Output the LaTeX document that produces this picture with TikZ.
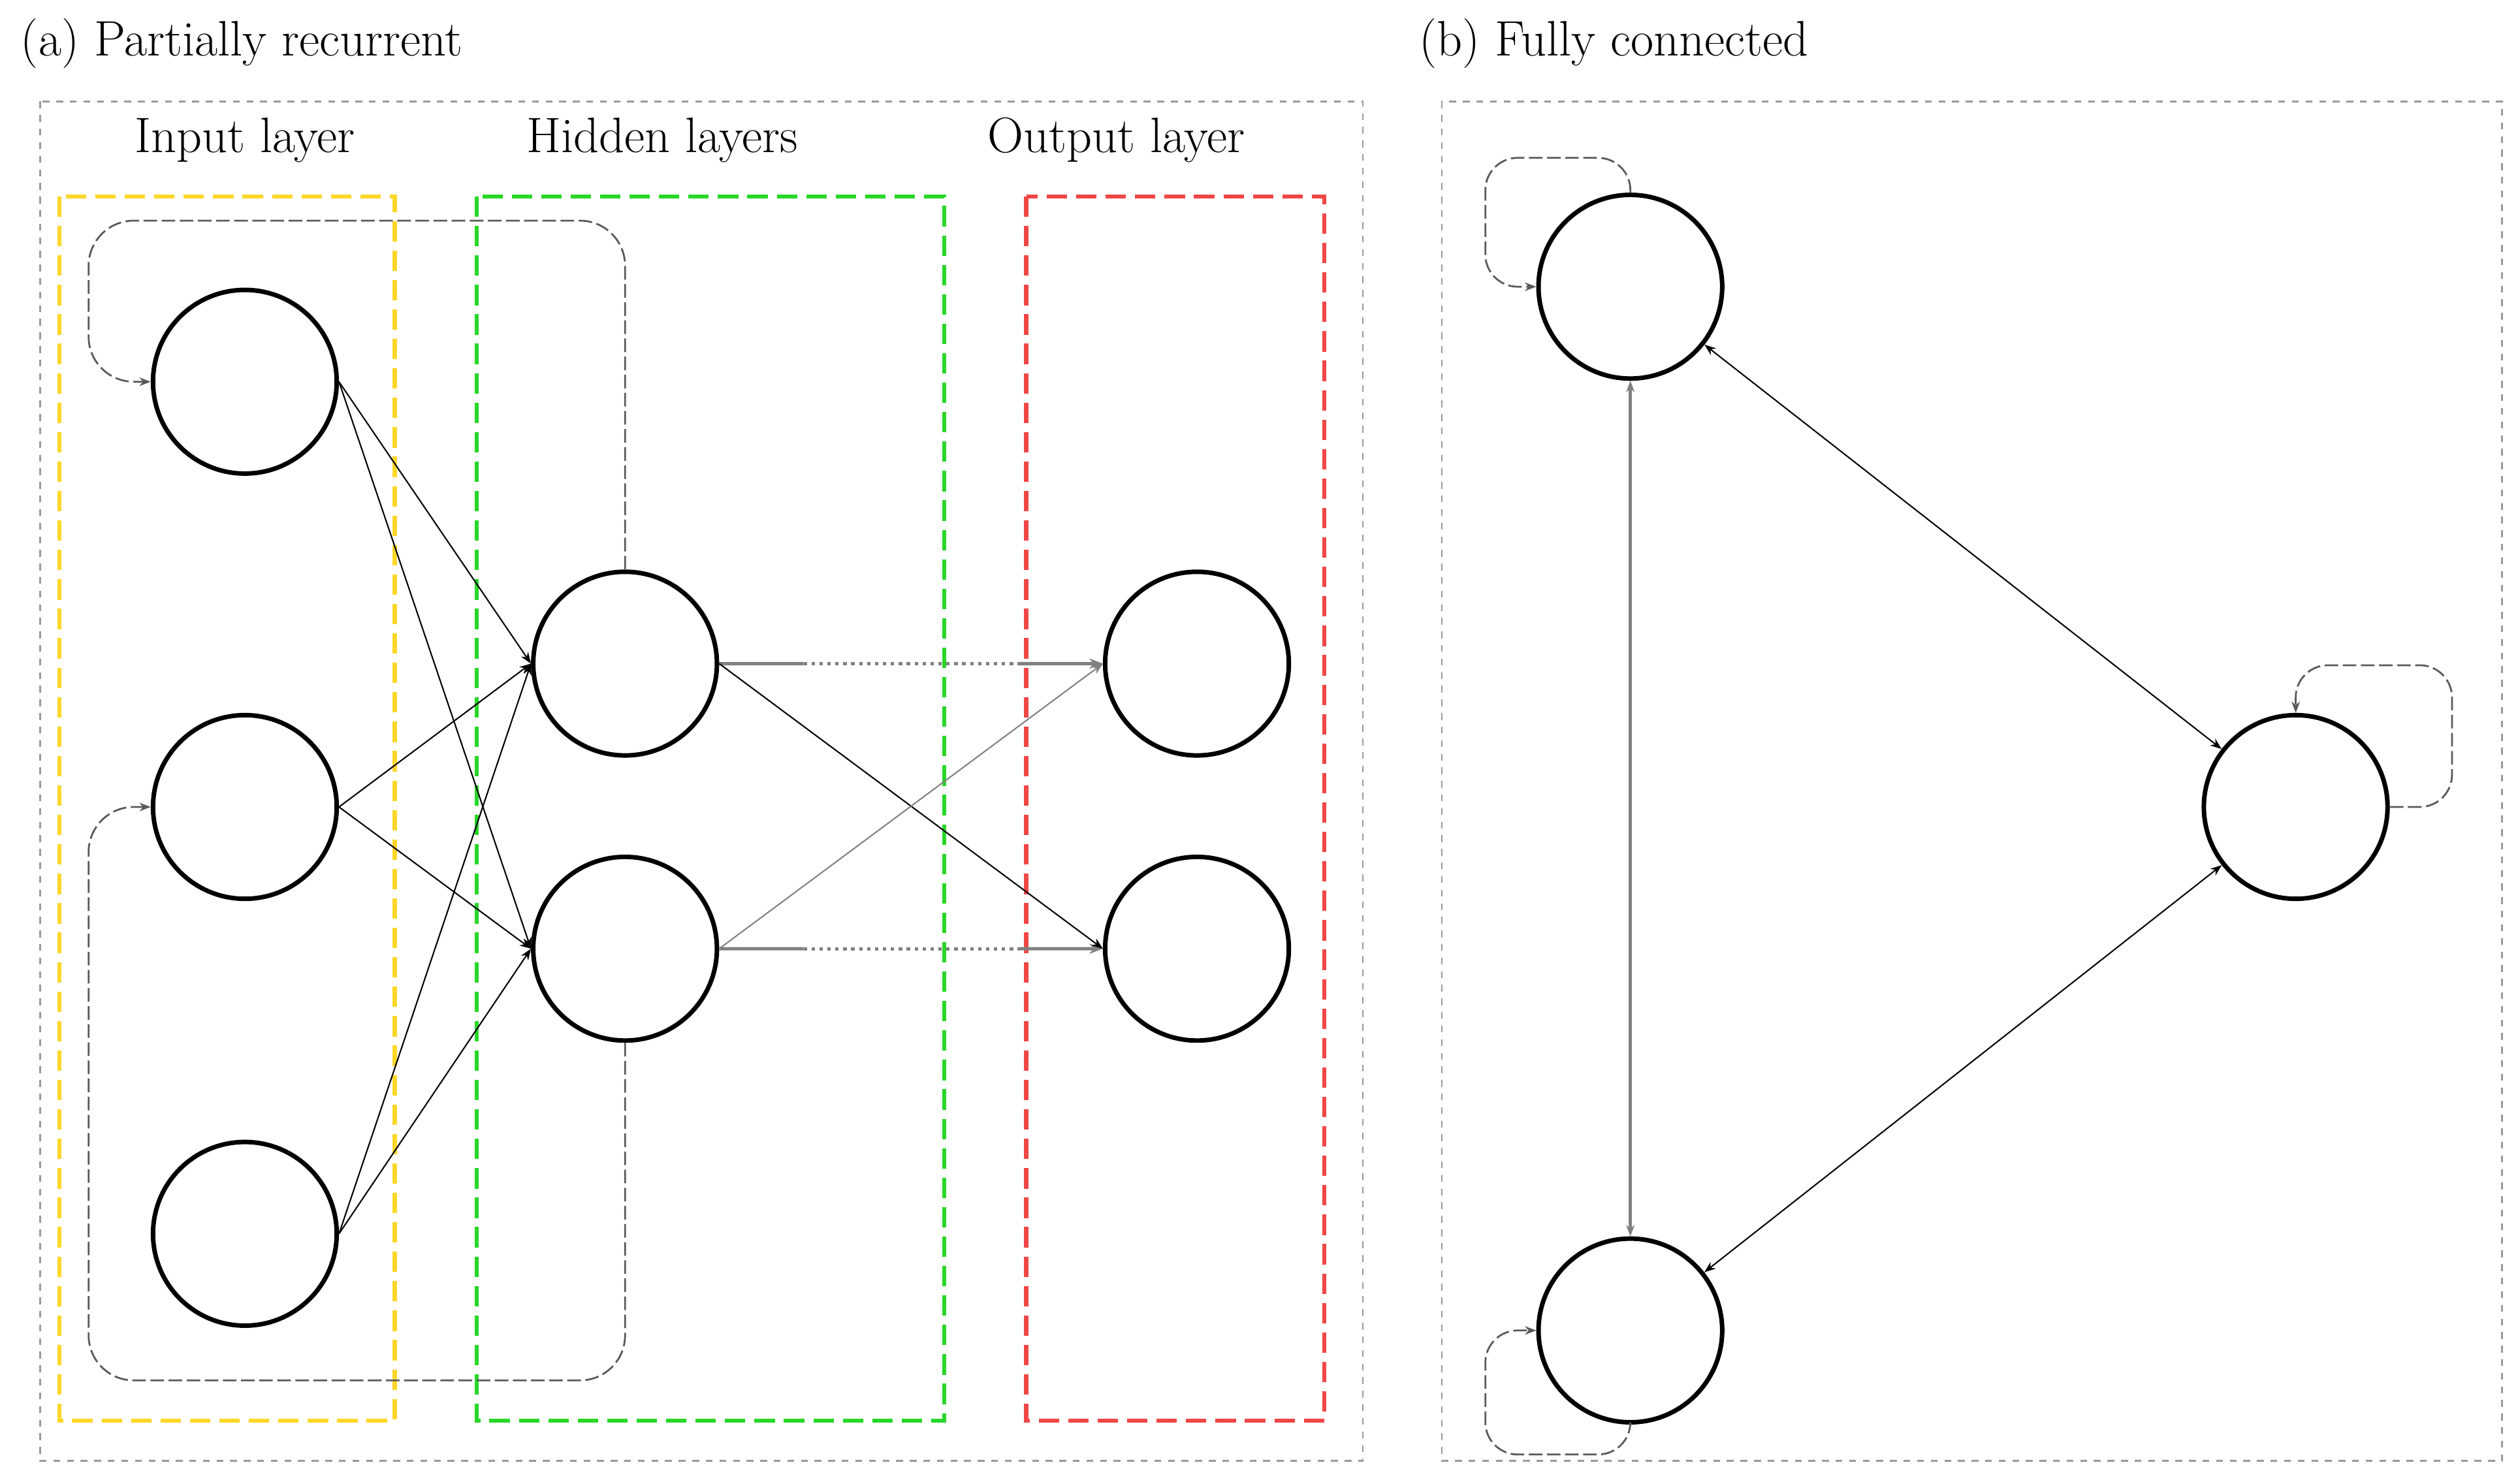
\documentclass[tikz,border=0pt]{standalone}
\usetikzlibrary{calc,arrows.meta}
\begin{document}
\begin{tikzpicture}[x=0.025cm,y=-0.025cm,
  neuron/.style={circle,draw,line width=2pt,minimum size=2.85cm,inner sep=0},
  frame/.style={draw=gray!80,dashed,line width=0.7pt},
  layer/.style={dash pattern=on 9pt off 4pt,line width=1.8pt},
  lbl/.style={font=\fontsize{22}{26}\selectfont},
  conn/.style={line width=0.6pt,-{Stealth[length=5pt]}},
  rec/.style={line width=0.8pt,dash pattern=on 6pt off 2pt,draw=black!65,rounded corners=0.7cm,-{Stealth[length=5pt]}},
  bi/.style={line width=0.6pt,{Stealth[length=5pt]}-{Stealth[length=5pt]}}]
\useasboundingbox (0,0) rectangle (1563,921);
\node[lbl,anchor=west] (ta) at (8,27) {(a) Partially recurrent};
\node[lbl,anchor=west] (tb) at (876,27) {(b) Fully connected};
\draw[frame] (25,63) rectangle (846,907);
\draw[frame] (895,63) rectangle (1553,907);
\node[lbl] (li) at (152,87) {Input layer};
\node[lbl] (lh) at (411,87) {Hidden layers};
\node[lbl] (lo) at (693,87) {Output layer};
\draw[layer,draw={rgb,255:red,255;green,215;blue,40}] (37,122) rectangle (245,882);
\draw[layer,draw={rgb,255:red,40;green,215;blue,40}] (296,122) rectangle (586,882);
\draw[layer,draw={rgb,255:red,240;green,70;blue,70}] (637,122) rectangle (822,882);
\node[neuron] (I1) at (152,237) {};
\node[neuron] (I2) at (152,501) {};
\node[neuron] (I3) at (152,766) {};
\node[neuron] (H1) at (388,412) {};
\node[neuron] (H2) at (388,589) {};
\node[neuron] (O1) at (743,412) {};
\node[neuron] (O2) at (743,589) {};
\foreach \i in {I1,I2,I3}{
  \draw[conn] (\i.east) -- (H1.west);
  \draw[conn] (\i.east) -- (H2.west);}
\draw[line width=1.5pt,gray] (H1.east) -- ($(H1.east)!0.22!(O1.west)$);
\draw[line width=1.5pt,gray,dotted] ($(H1.east)!0.22!(O1.west)$) -- ($(H1.east)!0.78!(O1.west)$);
\draw[line width=1.5pt,gray,-{Stealth[length=6pt]}] ($(H1.east)!0.78!(O1.west)$) -- (O1.west);
\draw[line width=1.5pt,gray] (H2.east) -- ($(H2.east)!0.22!(O2.west)$);
\draw[line width=1.5pt,gray,dotted] ($(H2.east)!0.22!(O2.west)$) -- ($(H2.east)!0.78!(O2.west)$);
\draw[line width=1.5pt,gray,-{Stealth[length=6pt]}] ($(H2.east)!0.78!(O2.west)$) -- (O2.west);
\draw[conn] (H1.east) -- (O2.west);
\draw[conn,gray] (H2.east) -- (O1.west);
\coordinate (r1) at (55,137);
\coordinate (r2) at (55,857);
\draw[rec] (H1.north) |- (r1) |- (I1.west);
\draw[rec] (H2.south) |- (r2) |- (I2.west);
% panel b
\node[neuron] (A) at (1012,178) {};
\node[neuron] (B) at (1425,501) {};
\node[neuron] (C) at (1012,826) {};
\draw[bi,gray,line width=1.5pt] (A) -- (C);
\draw[bi] (A) -- (B);
\draw[bi] (B) -- (C);
\coordinate (sa) at (922,98);
\coordinate (sc) at (922,903);
\coordinate (sb) at (1522,413);
\draw[rec,rounded corners=0.5cm] (A.north) |- (sa) |- (A.west);
\draw[rec,rounded corners=0.5cm] (C.south) |- (sc) |- (C.west);
\draw[rec,rounded corners=0.5cm] (B.east) -| (sb) -| (B.north);
\end{tikzpicture}
\end{document}
